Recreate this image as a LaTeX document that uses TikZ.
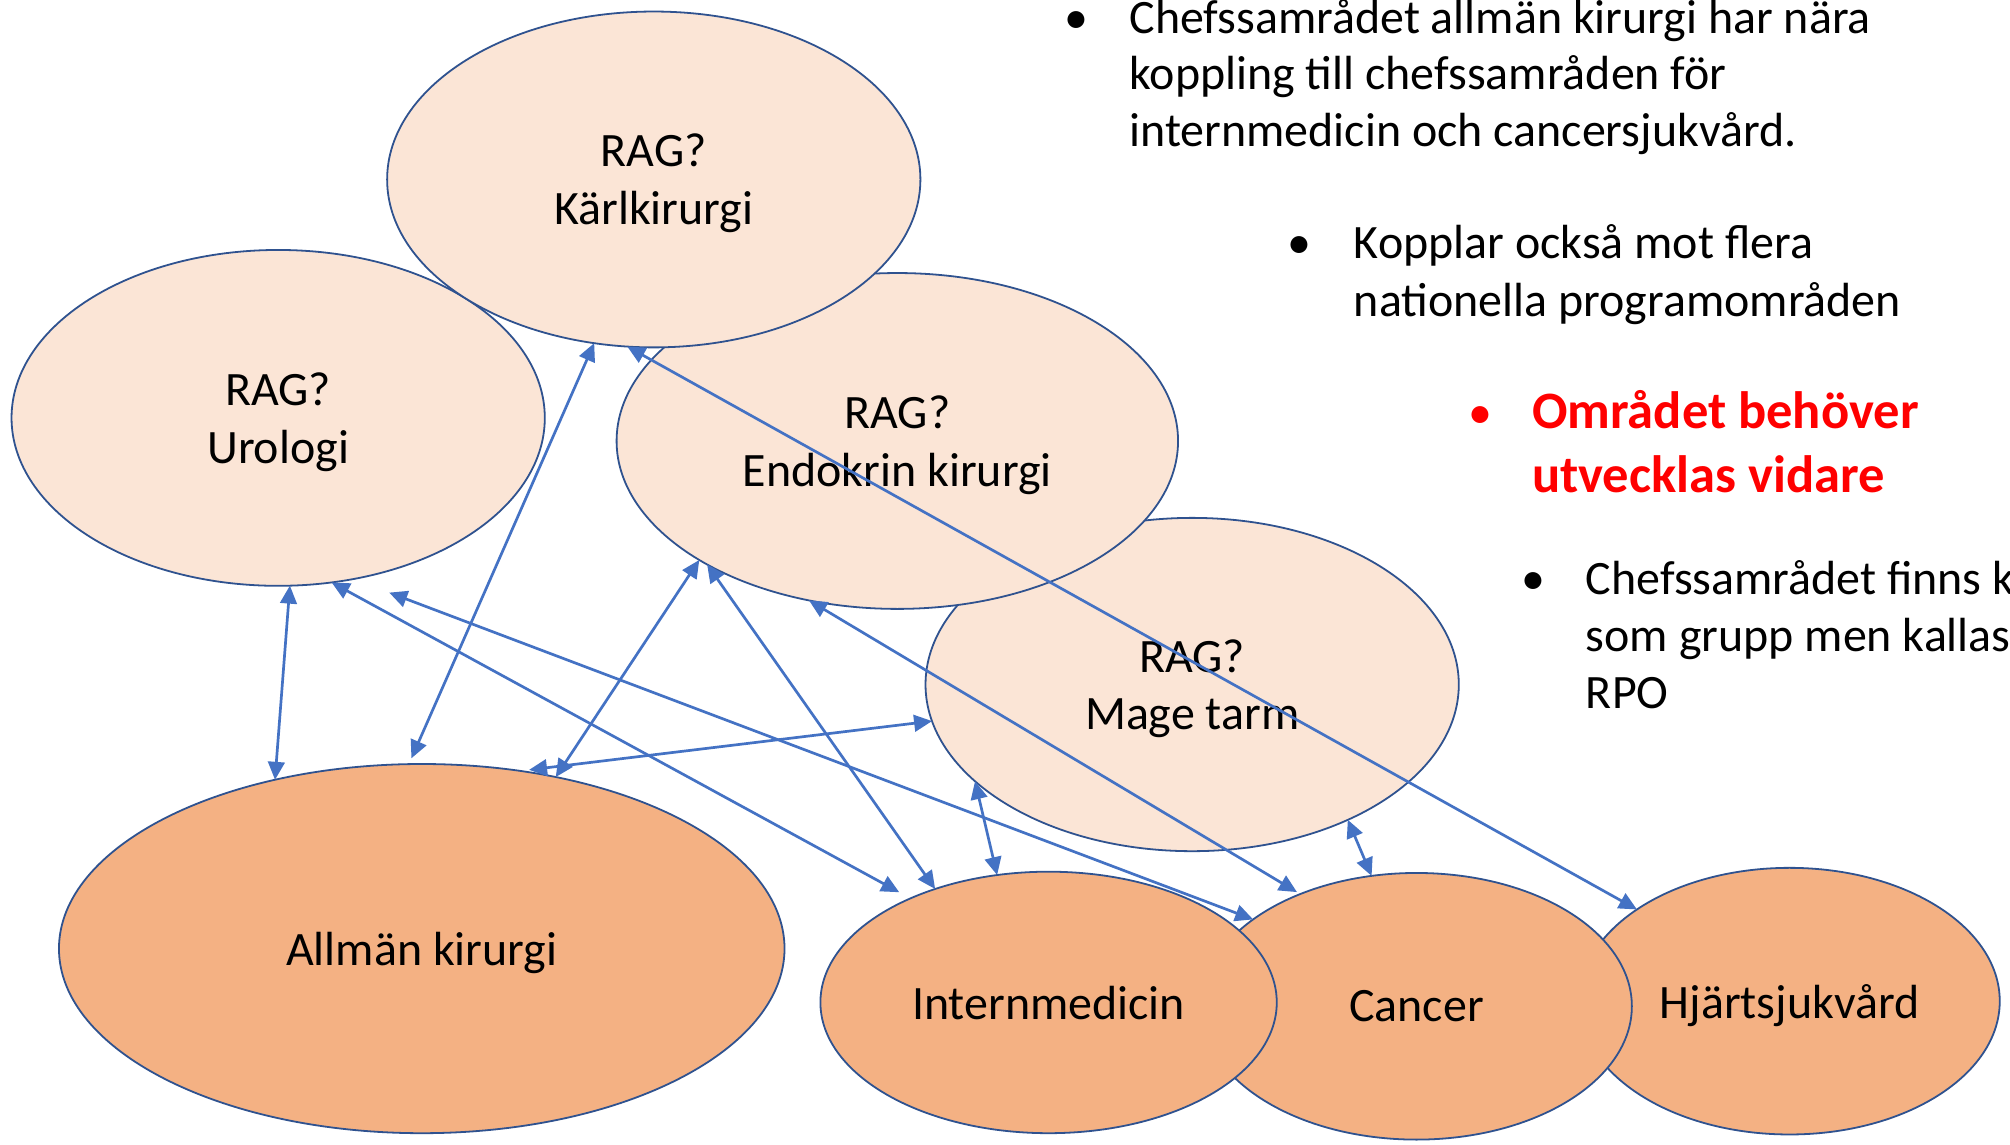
\documentclass[tikz,border=0pt]{standalone}
\usepackage{fontspec}
\setmainfont{Carlito}
\usetikzlibrary{shapes.geometric,arrows.meta}
\definecolor{lightfill}{RGB}{251,229,214}
\definecolor{darkfill}{RGB}{244,177,131}
\definecolor{edgeblue}{RGB}{47,82,143}
\definecolor{arrowblue}{RGB}{68,114,196}
\definecolor{redtext}{RGB}{255,0,0}
\begin{document}
\begin{tikzpicture}[x=1pt,y=-1pt,
  area/.style={ellipse, draw=edgeblue, line width=1.4pt, inner sep=0pt, outer sep=0pt,
    align=center, text depth=0pt, font=\fontsize{37.4}{45}\selectfont},
  rag/.style={area, fill=lightfill},
  chef/.style={area, fill=darkfill},
  link/.style={draw=arrowblue, line width=2.1pt,
    {Triangle[length=14pt,width=13pt]}-{Triangle[length=14pt,width=13pt]}},
  line/.style={anchor=base west, inner sep=0pt, font=\fontsize{37.4}{45}\selectfont},
  redline/.style={anchor=base west, inner sep=0pt, text=redtext, font=\bfseries\fontsize{41}{50}\selectfont},
  dot/.style={anchor=base, inner sep=0pt, font=\fontsize{37.4}{45}\selectfont}
]
\clip (0,0) rectangle (1568,893);
\fill[white] (0,0) rectangle (1568,893);

% bottom row
\node[chef, minimum width=328pt, minimum height=208pt] (hjart) at (1396,781) {Hjärtsjukvård};
\node[chef, minimum width=336pt, minimum height=208pt] (cancer) at (1105,785) {Cancer};
\node[chef, minimum width=356pt, minimum height=204pt] (intern) at (818,782) {Internmedicin};
\node[chef, minimum width=566pt, minimum height=288pt] (allman) at (329,740) {Allmän kirurgi};

% RAG ellipses
\node[rag, minimum width=416pt, minimum height=260pt] (mage) at (930,534) {RAG?\\Mage tarm};
\node[rag, minimum width=438pt, minimum height=262pt] (endo) at (700,344) {RAG?\\Endokrin kirurgi};
\node[rag, minimum width=416pt, minimum height=262pt] (uro) at (217,326) {RAG?\\Urologi};
\node[rag, minimum width=416pt, minimum height=262pt] (karl) at (510,140) {RAG?\\Kärlkirurgi};

% connectors
\draw[link] (uro.-86) -- (allman.131);
\draw[link, shorten >=5pt] (karl.-110) -- (allman.94);
\draw[link] (karl.-99) -- (hjart.149);
\draw[link, shorten >=10pt] (uro.-72) -- (intern.143);
\draw[link, shorten <=30pt] (uro.-65) -- (cancer.152);
\draw[link] (endo.-149) -- (allman.52);
\draw[link] (endo.-147) -- (intern.135);
\draw[link, shorten >=7pt] (mage.-172) -- (allman.61);
\draw[link, shorten >=3pt] (endo.-119) -- (cancer.136);
\draw[link] (mage.-156) -- (intern.112);
\draw[link] (mage.-41) -- (cancer.109);

% right-hand text
\node[dot] (d1) at (840,26) {•};
\node[line] (t1a) at (881,26) {Chefssamrådet allmän kirurgi har nära};
\node[line] (t1b) at (881,70) {koppling till chefssamråden för};
\node[line] (t1c) at (881,114) {internmedicin och cancersjukvård.};

\node[dot] (d2) at (1014,202) {•};
\node[line] (t2a) at (1056,202) {Kopplar också mot flera};
\node[line] (t2b) at (1056,247) {nationella programområden};

\node[dot, text=redtext] (d3) at (1155,334) {•};
\node[redline] (t3a) at (1195,334) {Området behöver};
\node[redline] (t3b) at (1195,384) {utvecklas vidare};

\node[dot] (d4) at (1196,464) {•};
\node[line] (t4a) at (1237,464) {Chefssamrådet finns k};
\node[line] (t4b) at (1237,508) {som grupp men kallas};
\node[line] (t4c) at (1237,553) {RPO};
\end{tikzpicture}
\end{document}
